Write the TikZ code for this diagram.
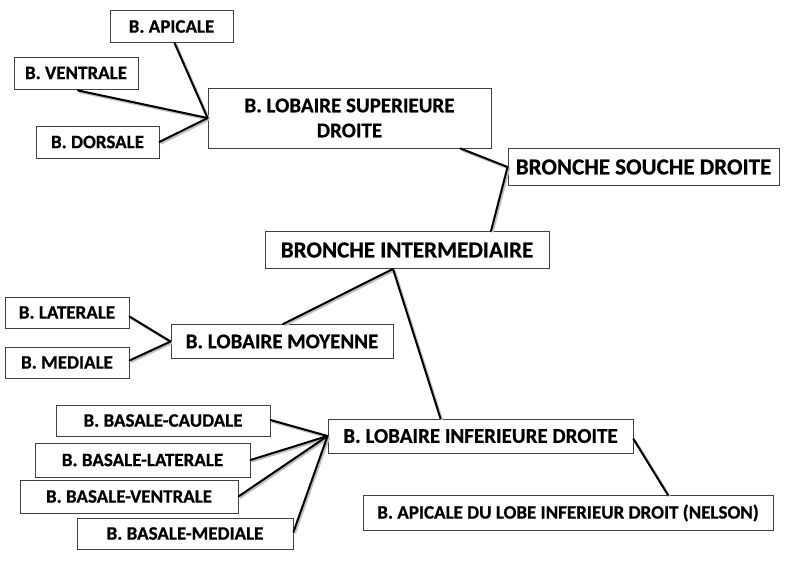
\documentclass[tikz,border=0pt]{standalone}
\usepackage{fontspec}
\setmainfont{Carlito}[BoldFeatures={FakeBold=0.6}]
\usetikzlibrary{calc}
\tikzset{
  box/.style={draw=black!75, line width=0.9pt, fill=white, inner sep=0pt, align=center, font=\bfseries},
  small/.style={box, font=\fontsize{19}{22}\selectfont\bfseries},
  mid/.style={box, font=\fontsize{21}{25}\selectfont\bfseries},
  big/.style={box, font=\fontsize{23}{27}\selectfont\bfseries},
  link/.style={line width=2pt, black, line cap=round,
    preaction={draw=black!25, line width=2.6pt, transform canvas={shift={(1.3pt,-1.3pt)}}}},
}
\begin{document}
\begin{tikzpicture}[x=1pt, y=-1pt]
\useasboundingbox (0,0) rectangle (800,561);
% nodes
\node[small, minimum width=123pt, minimum height=32pt] (apic) at (171.5,26.5) {B. APICALE};
\node[small, minimum width=124pt, minimum height=32pt] (vent) at (76,73) {B. VENTRALE};
\node[small, minimum width=123pt, minimum height=32pt] (dors) at (97.5,142) {B. DORSALE};
\node[mid, minimum width=283pt, minimum height=60pt] (lsd) at (349.5,118) {B. LOBAIRE SUPERIEURE\\DROITE};
\node[big, minimum width=271pt, minimum height=37pt] (bsd) at (643.5,167) {BRONCHE SOUCHE DROITE};
\node[big, minimum width=284pt, minimum height=37pt] (bi) at (407,250) {BRONCHE INTERMEDIAIRE};
\node[small, minimum width=124pt, minimum height=31pt] (lat) at (67,312.5) {B. LATERALE};
\node[small, minimum width=124pt, minimum height=31pt] (med) at (67,362.5) {B. MEDIALE};
\node[mid, minimum width=222pt, minimum height=34pt] (blm) at (282,341.5) {B. LOBAIRE MOYENNE};
\node[small, minimum width=214pt, minimum height=31pt] (caud) at (163,420.5) {B. BASALE-CAUDALE};
\node[small, minimum width=215pt, minimum height=34pt] (blat) at (142.5,460) {B. BASALE-LATERALE};
\node[small, minimum width=218pt, minimum height=33pt] (bvent) at (129,496.5) {B. BASALE-VENTRALE};
\node[small, minimum width=216pt, minimum height=31pt] (bmed) at (185,533.5) {B. BASALE-MEDIALE};
\node[mid, minimum width=305pt, minimum height=34pt] (blid) at (480.5,436) {B. LOBAIRE INFERIEURE DROITE};
\node[small, minimum width=410pt, minimum height=35pt] (nel) at (568,513) {B. APICALE DU LOBE INFERIEUR DROIT (NELSON)};
% connectors
\draw[link] ($(apic.south)+(3,0)$) -- (lsd.west);
\draw[link] ($(vent.south)+(2,1)$) -- (lsd.west);
\draw[link] (dors.east) -- (lsd.west);
\draw[link] ($(lsd.south east)+(-31,0)$) -- (bsd.west) -- ($(bi.north)+(84,0)$);
\draw[link] ($(bi.south)+(-14,0)$) -- ($(blm.north)+(1,0)$);
\draw[link] ($(bi.south)+(-14,0)$) -- ($(blid.north)+(-40,0)$);
\draw[link] ($(lat.east)+(0,4)$) -- (blm.west);
\draw[link] ($(med.east)+(0,-2)$) -- (blm.west);
\draw[link] ($(caud.east)+(0,-0.5)$) -- (blid.west);
\draw[link] (blat.east) -- (blid.west);
\draw[link] (bvent.east) -- (blid.west);
\draw[link] ($(bmed.east)+(0,-1.5)$) -- (blid.west);
\draw[link] ($(blid.east)+(0,3)$) -- ($(nel.north)+(100,0)$);
\end{tikzpicture}
\end{document}
